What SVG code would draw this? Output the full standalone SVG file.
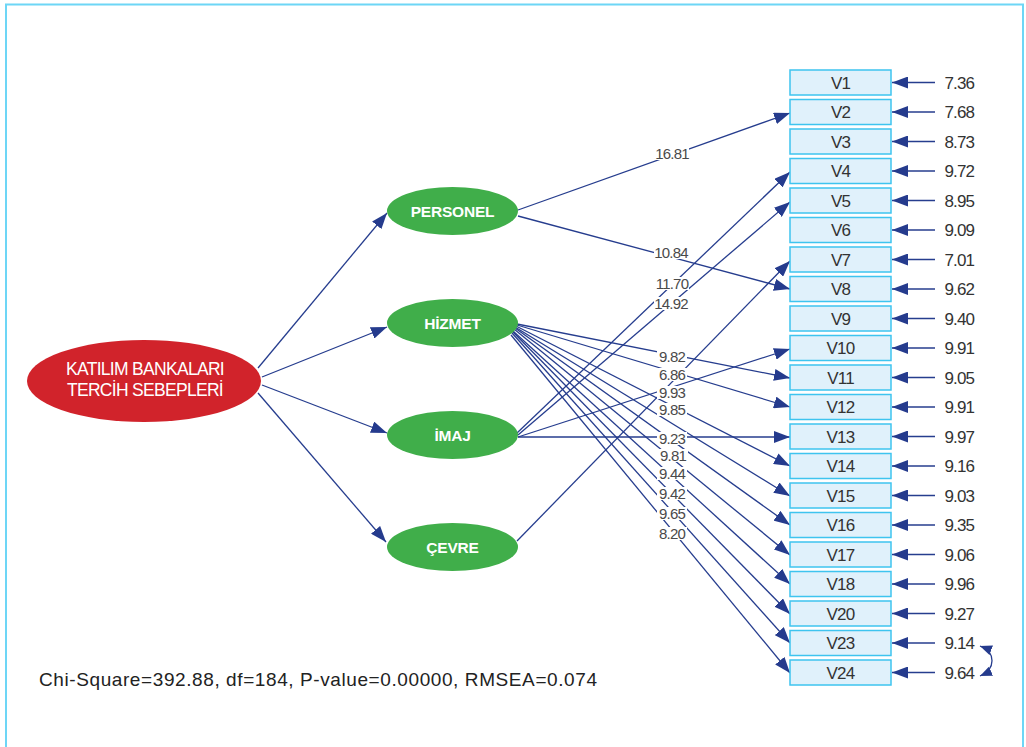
<svg xmlns="http://www.w3.org/2000/svg" width="1026" height="747" viewBox="0 0 1026 747">
  <style>
    .frame { fill: none; stroke: #6dd6f6; stroke-width: 2; }
    .conn { fill: none; stroke: #263d8e; stroke-width: 1.3; }
    .box { fill: #e0f1fb; stroke: #3ec4ef; stroke-width: 1.5; }
    .boxlbl { font-family: "Liberation Sans", Arial, sans-serif; font-size: 17px; fill: #333; text-anchor: middle; letter-spacing: -0.8px; }
    .err { font-family: "Liberation Sans", Arial, sans-serif; font-size: 17px; fill: #333; text-anchor: end; letter-spacing: -0.9px; }
    .coef { font-family: "Liberation Sans", Arial, sans-serif; font-size: 15px; fill: #4a4a4a; text-anchor: middle; letter-spacing: -0.8px; }
    .coefbg { fill: #ffffff; }
    .latent { fill: #40ae4a; }
    .latlbl { font-family: "Liberation Sans", Arial, sans-serif; font-size: 15.5px; font-weight: bold; fill: #ffffff; text-anchor: middle; letter-spacing: -0.2px; }
    .main { fill: #d1232b; }
    .mainlbl { font-family: "Liberation Sans", Arial, sans-serif; font-size: 17.5px; fill: #ffffff; text-anchor: middle; letter-spacing: -0.7px; }
    .stats { font-family: "Liberation Sans", Arial, sans-serif; font-size: 19px; fill: #222; }
  </style>
  <defs>
    <marker id="ah" viewBox="0 0 16 12" refX="16" refY="6" markerWidth="16" markerHeight="12" markerUnits="userSpaceOnUse" orient="auto">
      <path d="M0,0 L16,6 L0,12 z" fill="#253b8d"/>
    </marker>
    <marker id="ahs" viewBox="0 0 12 10" refX="12" refY="5" markerWidth="12" markerHeight="10" markerUnits="userSpaceOnUse" orient="auto-start-reverse">
      <path d="M0,0 L12,5 L0,10 z" fill="#253b8d"/>
    </marker>
  </defs>

  <rect width="1026" height="747" fill="#ffffff"/>
  <!-- outer frame, open at the bottom -->
  <path class="frame" d="M6,760 L6,4.5 L1023,4.5 L1023,760"/>

  <!-- connectors -->
  <g id="connectors">
    <!-- second-order factor to first-order factors -->
    <path class="conn" d="M258,368 L387,213" marker-end="url(#ah)"/>
    <path class="conn" d="M262,377 L387,327" marker-end="url(#ah)"/>
    <path class="conn" d="M262,385 L387,433" marker-end="url(#ah)"/>
    <path class="conn" d="M258,393 L386,542" marker-end="url(#ah)"/>

    <!-- PERSONEL -->
    <path class="conn" d="M518,210 L790,113" marker-end="url(#ah)"/>
    <path class="conn" d="M518,216 L790,289" marker-end="url(#ah)"/>

    <!-- İMAJ -->
    <path class="conn" d="M517,433 L790,172" marker-end="url(#ah)"/>
    <path class="conn" d="M518,435 L790,202" marker-end="url(#ah)"/>
    <path class="conn" d="M518,437 L790,349" marker-end="url(#ah)"/>
    <path class="conn" d="M518,437 L790,437" marker-end="url(#ah)"/>

    <!-- ÇEVRE -->
    <path class="conn" d="M517,541 L790,261" marker-end="url(#ah)"/>

    <!-- HİZMET -->
    <path class="conn" d="M517,324 L790,378" marker-end="url(#ah)"/>
    <path class="conn" d="M517,325 L790,407" marker-end="url(#ah)"/>
    <path class="conn" d="M516,326 L790,466" marker-end="url(#ah)"/>
    <path class="conn" d="M515,327 L790,496" marker-end="url(#ah)"/>
    <path class="conn" d="M515,328 L790,525" marker-end="url(#ah)"/>
    <path class="conn" d="M514,329 L790,555" marker-end="url(#ah)"/>
    <path class="conn" d="M513,331 L790,584" marker-end="url(#ah)"/>
    <path class="conn" d="M513,332 L790,614" marker-end="url(#ah)"/>
    <path class="conn" d="M512,333 L790,643" marker-end="url(#ah)"/>
    <path class="conn" d="M511,335 L790,673" marker-end="url(#ah)"/>

    <!-- error terms -->
    <path class="conn" d="M935,82.5 L892,82.5" marker-end="url(#ah)"/>
    <path class="conn" d="M935,112 L892,112" marker-end="url(#ah)"/>
    <path class="conn" d="M935,141.5 L892,141.5" marker-end="url(#ah)"/>
    <path class="conn" d="M935,171 L892,171" marker-end="url(#ah)"/>
    <path class="conn" d="M935,200.5 L892,200.5" marker-end="url(#ah)"/>
    <path class="conn" d="M935,230 L892,230" marker-end="url(#ah)"/>
    <path class="conn" d="M935,259.5 L892,259.5" marker-end="url(#ah)"/>
    <path class="conn" d="M935,289 L892,289" marker-end="url(#ah)"/>
    <path class="conn" d="M935,318.5 L892,318.5" marker-end="url(#ah)"/>
    <path class="conn" d="M935,348 L892,348" marker-end="url(#ah)"/>
    <path class="conn" d="M935,377.5 L892,377.5" marker-end="url(#ah)"/>
    <path class="conn" d="M935,407 L892,407" marker-end="url(#ah)"/>
    <path class="conn" d="M935,436.5 L892,436.5" marker-end="url(#ah)"/>
    <path class="conn" d="M935,466 L892,466" marker-end="url(#ah)"/>
    <path class="conn" d="M935,495.5 L892,495.5" marker-end="url(#ah)"/>
    <path class="conn" d="M935,525 L892,525" marker-end="url(#ah)"/>
    <path class="conn" d="M935,554.5 L892,554.5" marker-end="url(#ah)"/>
    <path class="conn" d="M935,584 L892,584" marker-end="url(#ah)"/>
    <path class="conn" d="M935,613.5 L892,613.5" marker-end="url(#ah)"/>
    <path class="conn" d="M935,643 L892,643" marker-end="url(#ah)"/>
    <path class="conn" d="M935,672.5 L892,672.5" marker-end="url(#ah)"/>

    <!-- error covariance V23 / V24 -->
    <path class="conn" d="M980,646 C996,652 996,669 980,676" marker-start="url(#ahs)" marker-end="url(#ahs)"/>
  </g>

  <!-- path coefficients -->
  <g id="coefficients">
    <rect class="coefbg" x="655" y="147" width="34" height="13"/>
    <text class="coef" x="672" y="159">16.81</text>
    <rect class="coefbg" x="654" y="246" width="35" height="13"/>
    <text class="coef" x="671" y="258">10.84</text>
    <rect class="coefbg" x="655" y="277" width="34" height="13"/>
    <text class="coef" x="672" y="289">11.70</text>
    <rect class="coefbg" x="654" y="297" width="35" height="13"/>
    <text class="coef" x="671" y="309">14.92</text>
    <rect class="coefbg" x="657" y="350" width="30" height="13"/>
    <text class="coef" x="672" y="362">9.82</text>
    <rect class="coefbg" x="657" y="368" width="30" height="13"/>
    <text class="coef" x="672" y="380">6.86</text>
    <rect class="coefbg" x="657" y="386" width="30" height="13"/>
    <text class="coef" x="672" y="398">9.93</text>
    <rect class="coefbg" x="657" y="403" width="30" height="13"/>
    <text class="coef" x="672" y="415">9.85</text>
    <rect class="coefbg" x="657" y="432" width="30" height="13"/>
    <text class="coef" x="672" y="444">9.23</text>
    <rect class="coefbg" x="658" y="449" width="30" height="13"/>
    <text class="coef" x="673" y="461">9.81</text>
    <rect class="coefbg" x="657" y="467" width="30" height="13"/>
    <text class="coef" x="672" y="479">9.44</text>
    <rect class="coefbg" x="657" y="487" width="30" height="13"/>
    <text class="coef" x="672" y="499">9.42</text>
    <rect class="coefbg" x="657" y="507" width="30" height="13"/>
    <text class="coef" x="672" y="519">9.65</text>
    <rect class="coefbg" x="657" y="527" width="30" height="13"/>
    <text class="coef" x="672" y="539">8.20</text>
  </g>

  <!-- second-order factor -->
  <g id="node-katilim">
    <ellipse class="main" cx="144" cy="381" rx="117" ry="41"/>
    <text class="mainlbl" x="145" y="375">KATILIM BANKALARI</text>
    <text class="mainlbl" x="145" y="396">TERCİH SEBEPLERİ</text>
  </g>

  <!-- first-order factors -->
  <g id="node-personel">
    <ellipse class="latent" cx="452.5" cy="211" rx="65.5" ry="24"/>
    <text class="latlbl" x="452.5" y="216.5">PERSONEL</text>
  </g>
  <g id="node-hizmet">
    <ellipse class="latent" cx="452.5" cy="323" rx="65.5" ry="24"/>
    <text class="latlbl" x="452.5" y="328.5">HİZMET</text>
  </g>
  <g id="node-imaj">
    <ellipse class="latent" cx="452.5" cy="435" rx="65.5" ry="24"/>
    <text class="latlbl" x="452.5" y="440.5">İMAJ</text>
  </g>
  <g id="node-cevre">
    <ellipse class="latent" cx="452.5" cy="547" rx="65.5" ry="24"/>
    <text class="latlbl" x="452.5" y="552.5">ÇEVRE</text>
  </g>

  <!-- observed variables with error variances -->
  <g id="node-V1"><rect class="box" x="790" y="70" width="101" height="25"/><text class="boxlbl" x="840.5" y="88.5">V1</text><text class="err" x="974" y="88.5">7.36</text></g>
  <g id="node-V2"><rect class="box" x="790" y="99.5" width="101" height="25"/><text class="boxlbl" x="840.5" y="118">V2</text><text class="err" x="974" y="118">7.68</text></g>
  <g id="node-V3"><rect class="box" x="790" y="129" width="101" height="25"/><text class="boxlbl" x="840.5" y="147.5">V3</text><text class="err" x="974" y="147.5">8.73</text></g>
  <g id="node-V4"><rect class="box" x="790" y="158.5" width="101" height="25"/><text class="boxlbl" x="840.5" y="177">V4</text><text class="err" x="974" y="177">9.72</text></g>
  <g id="node-V5"><rect class="box" x="790" y="188" width="101" height="25"/><text class="boxlbl" x="840.5" y="206.5">V5</text><text class="err" x="974" y="206.5">8.95</text></g>
  <g id="node-V6"><rect class="box" x="790" y="217.5" width="101" height="25"/><text class="boxlbl" x="840.5" y="236">V6</text><text class="err" x="974" y="236">9.09</text></g>
  <g id="node-V7"><rect class="box" x="790" y="247" width="101" height="25"/><text class="boxlbl" x="840.5" y="265.5">V7</text><text class="err" x="974" y="265.5">7.01</text></g>
  <g id="node-V8"><rect class="box" x="790" y="276.5" width="101" height="25"/><text class="boxlbl" x="840.5" y="295">V8</text><text class="err" x="974" y="295">9.62</text></g>
  <g id="node-V9"><rect class="box" x="790" y="306" width="101" height="25"/><text class="boxlbl" x="840.5" y="324.5">V9</text><text class="err" x="974" y="324.5">9.40</text></g>
  <g id="node-V10"><rect class="box" x="790" y="335.5" width="101" height="25"/><text class="boxlbl" x="840.5" y="354">V10</text><text class="err" x="974" y="354">9.91</text></g>
  <g id="node-V11"><rect class="box" x="790" y="365" width="101" height="25"/><text class="boxlbl" x="840.5" y="383.5">V11</text><text class="err" x="974" y="383.5">9.05</text></g>
  <g id="node-V12"><rect class="box" x="790" y="394.5" width="101" height="25"/><text class="boxlbl" x="840.5" y="413">V12</text><text class="err" x="974" y="413">9.91</text></g>
  <g id="node-V13"><rect class="box" x="790" y="424" width="101" height="25"/><text class="boxlbl" x="840.5" y="442.5">V13</text><text class="err" x="974" y="442.5">9.97</text></g>
  <g id="node-V14"><rect class="box" x="790" y="453.5" width="101" height="25"/><text class="boxlbl" x="840.5" y="472">V14</text><text class="err" x="974" y="472">9.16</text></g>
  <g id="node-V15"><rect class="box" x="790" y="483" width="101" height="25"/><text class="boxlbl" x="840.5" y="501.5">V15</text><text class="err" x="974" y="501.5">9.03</text></g>
  <g id="node-V16"><rect class="box" x="790" y="512.5" width="101" height="25"/><text class="boxlbl" x="840.5" y="531">V16</text><text class="err" x="974" y="531">9.35</text></g>
  <g id="node-V17"><rect class="box" x="790" y="542" width="101" height="25"/><text class="boxlbl" x="840.5" y="560.5">V17</text><text class="err" x="974" y="560.5">9.06</text></g>
  <g id="node-V18"><rect class="box" x="790" y="571.5" width="101" height="25"/><text class="boxlbl" x="840.5" y="590">V18</text><text class="err" x="974" y="590">9.96</text></g>
  <g id="node-V20"><rect class="box" x="790" y="601" width="101" height="25"/><text class="boxlbl" x="840.5" y="619.5">V20</text><text class="err" x="974" y="619.5">9.27</text></g>
  <g id="node-V23"><rect class="box" x="790" y="630.5" width="101" height="25"/><text class="boxlbl" x="840.5" y="649">V23</text><text class="err" x="974" y="649">9.14</text></g>
  <g id="node-V24"><rect class="box" x="790" y="660" width="101" height="25"/><text class="boxlbl" x="840.5" y="678.5">V24</text><text class="err" x="974" y="678.5">9.64</text></g>

  <!-- fit statistics -->
  <text class="stats" x="39" y="686" textLength="558" lengthAdjust="spacing">Chi-Square=392.88, df=184, P-value=0.00000, RMSEA=0.074</text>
</svg>
